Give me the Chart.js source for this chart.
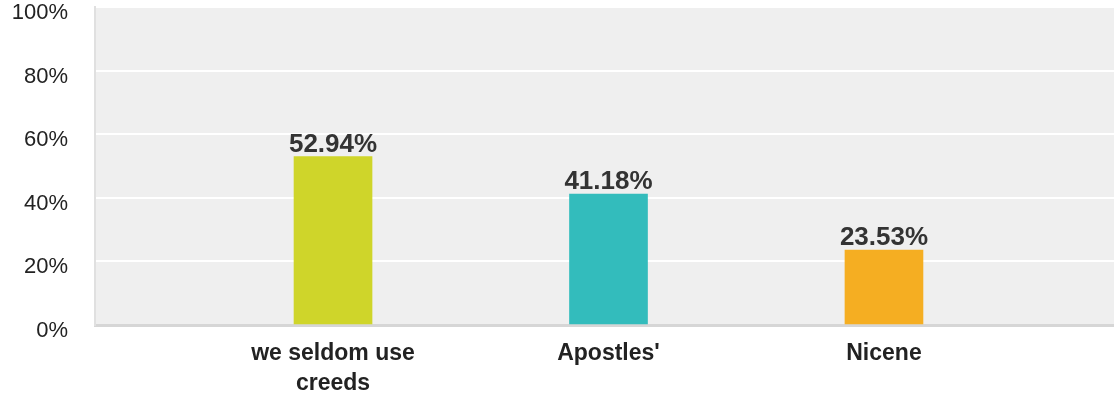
<!DOCTYPE html>
<html>
<head>
<meta charset="utf-8">
<script src="https://cdn.jsdelivr.net/npm/chart.js@4"></script>
<style>
  html, body { margin: 0; padding: 0; background: #ffffff; }
  #wrap { width: 1114px; height: 396px; position: relative; }
</style>
</head>
<body>
<div id="wrap"><canvas id="graficoCredos"></canvas></div>
<script>
// datos
const categorias = [["we seldom use", "creeds"], ["Apostles'"], ["Nicene"]];
const porcentajes = [52.94, 41.18, 23.53];
const colores = ["#cfd52a", "#33bcbc", "#f5ae22"];
const ticksY = [0, 20, 40, 60, 80, 100];

// fondo gris del area del grafico
const fondoGris = {
	id: 'fondoGris',
	beforeDraw(chart) {
		const { ctx, chartArea } = chart;
		ctx.save();
		ctx.fillStyle = '#efefef';
		ctx.fillRect(chartArea.left, chartArea.top, chartArea.right - chartArea.left, chartArea.bottom - chartArea.top);
		ctx.restore();
	}
};

// etiquetas con el valor arriba de cada barra
const etiquetasValor = {
	id: 'etiquetasValor',
	afterDatasetsDraw(chart) {
		const { ctx } = chart;
		const meta = chart.getDatasetMeta(0);
		ctx.save();
		ctx.font = 'bold 26px "Liberation Sans", Arial, sans-serif';
		ctx.fillStyle = '#333333';
		ctx.textAlign = 'center';
		ctx.textBaseline = 'bottom';
		meta.data.forEach((barra, i) => {
			ctx.fillText(porcentajes[i].toFixed(2) + '%', barra.x, barra.y + 1);
		});
		ctx.restore();
	}
};

new Chart(document.getElementById('graficoCredos'), {
	type: 'bar',
	data: {
		datasets: [{
			data: porcentajes.map((v, i) => ({ x: i, y: v })),
			backgroundColor: colores,
			barThickness: 78,
			borderWidth: 0
		}]
	},
	options: {
		responsive: true,
		maintainAspectRatio: false,
		animation: false,
		layout: { padding: { top: 7, left: 0, right: 0, bottom: 0 } },
		plugins: {
			legend: { display: false },
			tooltip: { enabled: false }
		},
		scales: {
			x: {
				type: 'linear',
				offset: false,
				min: -0.864,
				max: 2.835,
				afterBuildTicks: (axis) => {
					axis.ticks = categorias.map((c, i) => ({ value: i }));
				},
				afterFit: (axis) => {
					axis.height = 71;
				},
				grid: { display: false, drawTicks: false },
				border: { color: '#d6d6d6', width: 3 },
				ticks: {
					autoSkip: false,
					maxRotation: 0,
					padding: 14,
					color: '#222222',
					font: { family: '"Liberation Sans", Arial, sans-serif', size: 23, weight: 'bold', lineHeight: 1.3 },
					callback: (v) => categorias[v]
				}
			},
			y: {
				min: 0,
				max: 100,
				afterBuildTicks: (axis) => {
					axis.ticks = ticksY.map(v => ({ value: v }));
				},
				afterFit: (axis) => {
					axis.width = 95;
					axis.paddingTop = 0;
					axis.paddingBottom = 0;
				},
				grid: { color: '#ffffff', lineWidth: 2, drawTicks: false },
				border: { color: '#e0e0e0', width: 2 },
				ticks: {
					padding: 27,
					labelOffset: 6,
					color: '#222222',
					font: { family: '"Liberation Sans", Arial, sans-serif', size: 22 },
					callback: (v) => v + '%'
				}
			}
		}
	},
	plugins: [fondoGris, etiquetasValor]
});
</script>
</body>
</html>
